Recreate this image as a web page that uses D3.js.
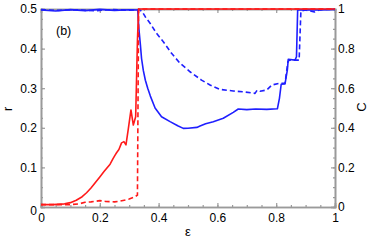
<!DOCTYPE html>
<html>
<head>
<meta charset="utf-8">
<script src="https://cdn.jsdelivr.net/npm/d3@7"></script>
<style>
  body { margin: 0; background: #fff; }
  svg { display: block; font-family: "Liberation Sans", Arial, sans-serif; }
</style>
</head>
<body>
<svg id="chart" width="374" height="242"></svg>
<script>
// red solid, r (left axis)
const redSolidEps = [0, 0.04, 0.08, 0.1, 0.12, 0.14, 0.155, 0.17, 0.185, 0.2, 0.215, 0.235, 0.245, 0.252, 0.257, 0.265, 0.274, 0.282, 0.289, 0.297, 0.306, 0.314, 0.322, 0.328, 0.332, 0.5, 1];
const redSolidR   = [0.006, 0.006, 0.008, 0.011, 0.017, 0.026, 0.036, 0.048, 0.062, 0.076, 0.09, 0.108, 0.122, 0.131, 0.137, 0.145, 0.162, 0.165, 0.157, 0.197, 0.245, 0.207, 0.228, 0.42, 0.5, 0.5, 0.5];

// red dashed, r (left axis)
const redDashEps = [0, 0.05, 0.1, 0.13, 0.15, 0.17, 0.2, 0.22, 0.25, 0.27, 0.3, 0.32, 0.328, 0.332, 1];
const redDashR   = [0.006, 0.006, 0.006, 0.008, 0.012, 0.013, 0.016, 0.014, 0.013, 0.015, 0.02, 0.026, 0.03, 0.5, 0.5];

// blue solid, C (right axis)
const blueSolidEps = [0, 0.05, 0.1, 0.15, 0.2, 0.25, 0.3, 0.329, 0.333, 0.338, 0.342, 0.348, 0.355, 0.363, 0.372, 0.388, 0.41, 0.439, 0.465, 0.484, 0.5, 0.53, 0.541, 0.56, 0.586, 0.62, 0.654, 0.671, 0.7, 0.73, 0.768, 0.804, 0.811, 0.817, 0.83, 0.838, 0.841, 0.864, 0.869, 0.873, 0.9, 0.95, 1];
const blueSolidC   = [0.995, 0.99, 0.997, 0.992, 0.998, 0.993, 0.996, 0.995, 0.9, 0.82, 0.75, 0.69, 0.64, 0.6, 0.56, 0.5, 0.456, 0.431, 0.41, 0.397, 0.398, 0.402, 0.409, 0.42, 0.431, 0.448, 0.478, 0.495, 0.492, 0.495, 0.493, 0.496, 0.549, 0.62, 0.622, 0.692, 0.746, 0.742, 0.759, 0.995, 0.997, 0.995, 0.998];

// blue dashed, C (right axis)
const blueDashEps = [0, 0.06, 0.12, 0.18, 0.24, 0.3, 0.335, 0.345, 0.355, 0.371, 0.393, 0.416, 0.444, 0.473, 0.507, 0.546, 0.575, 0.609, 0.654, 0.688, 0.728, 0.735, 0.745, 0.768, 0.785, 0.813, 0.83, 0.84, 0.845, 0.878, 0.884, 0.9, 0.93, 0.95, 1];
const blueDashC   = [0.997, 0.993, 0.996, 0.991, 0.997, 0.994, 0.997, 0.985, 0.96, 0.928, 0.877, 0.835, 0.776, 0.726, 0.683, 0.641, 0.616, 0.594, 0.586, 0.582, 0.574, 0.59, 0.585, 0.591, 0.616, 0.625, 0.625, 0.735, 0.742, 0.742, 0.99, 0.995, 0.985, 0.997, 0.998];

const xTicks = [0, 0.2, 0.4, 0.6, 0.8, 1];
const rTicks = [0, 0.1, 0.2, 0.3, 0.4, 0.5];
const cTicks = [0, 0.2, 0.4, 0.6, 0.8, 1];

const mLeft = 41, mRight = 335, mTop = 9, mBottom = 207;
const svg = d3.select("#chart");

const x = d3.scaleLinear().domain([0, 1]).range([mLeft, mRight]);
const yR = d3.scaleLinear().domain([0, 0.5]).range([mBottom, mTop]);
const yC = d3.scaleLinear().domain([0, 1]).range([mBottom, mTop]);

const axisColor = "#9a9a9a";
const fmt = d => d === 0 ? "0" : d === 1 ? "1" : d3.format(".1f")(d);

function styleAxis(g) {
  g.selectAll(".domain").attr("stroke", axisColor).attr("stroke-width", 1.6);
  g.selectAll(".tick line").attr("stroke", axisColor).attr("stroke-width", 1.2);
  g.selectAll("text").attr("fill", "#000").attr("font-size", 12);
}

// minor ticks
const minorX = d3.range(0, 1.0001, 0.05);
const minorR = d3.range(0, 0.5001, 0.025);
const minorC = d3.range(0, 1.0001, 0.05);

svg.append("g").attr("transform", `translate(0,${mBottom})`)
  .call(d3.axisBottom(x).tickValues(minorX).tickSize(-2).tickFormat("")).call(styleAxis);
svg.append("g").attr("transform", `translate(0,${mTop})`)
  .call(d3.axisTop(x).tickValues(minorX).tickSize(-2).tickFormat("")).call(styleAxis);
svg.append("g").attr("transform", `translate(${mLeft},0)`)
  .call(d3.axisLeft(yR).tickValues(minorR).tickSize(-2).tickFormat("")).call(styleAxis);
svg.append("g").attr("transform", `translate(${mRight},0)`)
  .call(d3.axisRight(yC).tickValues(minorC).tickSize(-2).tickFormat("")).call(styleAxis);

// major ticks
svg.append("g").attr("transform", `translate(0,${mBottom})`)
  .call(d3.axisBottom(x).tickValues(xTicks).tickSize(-4).tickPadding(6).tickFormat(fmt)).call(styleAxis);
svg.append("g").attr("transform", `translate(0,${mTop})`)
  .call(d3.axisTop(x).tickValues(xTicks).tickSize(-4).tickFormat("")).call(styleAxis);
const gl = svg.append("g").attr("transform", `translate(${mLeft},0)`)
  .call(d3.axisLeft(yR).tickValues(rTicks).tickSize(-4).tickPadding(4).tickFormat(fmt)).call(styleAxis);
gl.selectAll(".tick").filter(d => d === 0).select("text").attr("dy", "0.6em");
svg.append("g").attr("transform", `translate(${mRight},0)`)
  .call(d3.axisRight(yC).tickValues(cTicks).tickSize(-4).tickPadding(3).tickFormat(fmt)).call(styleAxis);

// curves
const lineR = d3.line().x(d => x(d[0])).y(d => yR(d[1]));
const lineC = d3.line().x(d => x(d[0])).y(d => yC(d[1]));

const series = [
  { eps: blueDashEps, val: blueDashC, line: lineC, color: "#1f1fff", dash: "5,3" },
  { eps: blueSolidEps, val: blueSolidC, line: lineC, color: "#1f1fff", dash: null },
  { eps: redDashEps, val: redDashR, line: lineR, color: "#ff1a1a", dash: "5,3" },
  { eps: redSolidEps, val: redSolidR, line: lineR, color: "#ff1a1a", dash: null }
];

series.forEach(s => {
  svg.append("path")
    .datum(d3.zip(s.eps, s.val))
    .attr("d", s.line)
    .attr("fill", "none")
    .attr("stroke", s.color)
    .attr("stroke-width", 1.6)
    .attr("stroke-dasharray", s.dash)
    .attr("stroke-linejoin", "round");
});

// labels
svg.append("text").attr("x", 56).attr("y", 35).attr("font-size", 12.5).text("(b)");
svg.append("text").attr("transform", "translate(12,109) rotate(-90)")
  .attr("text-anchor", "middle").attr("font-size", 12.5).text("r");
svg.append("text").attr("transform", "translate(366,107) rotate(-90)")
  .attr("text-anchor", "middle").attr("font-size", 13).text("C");
svg.append("text").attr("x", 188).attr("y", 236)
  .attr("text-anchor", "middle").attr("font-size", 13).text("ε");
</script>
</body>
</html>
